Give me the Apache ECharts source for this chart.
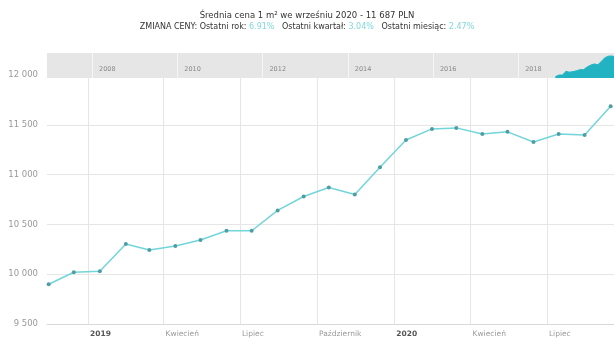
<!DOCTYPE html>
<html>
<head>
<meta charset="utf-8">
<script src="https://cdn.jsdelivr.net/npm/echarts@6/dist/echarts.min.js"></script>
<style>
  html, body { margin: 0; padding: 0; background: #fff; }
  #chart { width: 614px; height: 342px; }
</style>
</head>
<body>
<div id="chart"></div>
<script>
// monthly average price per m2 (mid-month points)
var months = ["2018-11-15", "2018-12-15", "2019-01-15", "2019-02-15", "2019-03-15", "2019-04-15",
  "2019-05-15", "2019-06-15", "2019-07-15", "2019-08-15", "2019-09-15", "2019-10-15",
  "2019-11-15", "2019-12-15", "2020-01-15", "2020-02-15", "2020-03-15", "2020-04-15",
  "2020-05-15", "2020-06-15", "2020-07-15", "2020-08-15", "2020-09-15"];
var prices = [9899, 10020, 10030, 10304, 10243, 10284, 10344, 10436, 10436, 10640, 10780, 10871,
  10800, 11074, 11348, 11459, 11469, 11408, 11429, 11327, 11408, 11398, 11687];

// main x axis ticks
var tickDates = ["2019-01-01", "2019-04-01", "2019-07-01", "2019-10-01", "2020-01-01", "2020-04-01", "2020-07-01"];
var tickLabels = ["2019", "Kwiecień", "Lipiec", "Październik", "2020", "Kwiecień", "Lipiec"];

// navigator ticks
var navDates = ["2008-01-01", "2010-01-01", "2012-01-01", "2014-01-01", "2016-01-01", "2018-01-01"];
var navLabels = ["2008", "2010", "2012", "2014", "2016", "2018"];

var change = { year: "6.91%", quarter: "3.04%", month: "2.47%" };

function toTime(s) {
  var p = s.split("-");
  return Date.UTC(+p[0], +p[1] - 1, +p[2]);
}
function nearest(list, v) {
  var best = 0;
  for (var i = 1; i < list.length; i++) {
    if (Math.abs(list[i] - v) < Math.abs(list[best] - v)) best = i;
  }
  return best;
}

var tickTimes = tickDates.map(toTime);
var navTimes = navDates.map(toTime);
var seriesData = months.map(function (m, i) { return [toTime(m), prices[i]]; });

var FONT = "DejaVu Sans";
var myChart = echarts.init(document.getElementById("chart"), null, { renderer: "canvas" });

var option = {
  animation: false,
  textStyle: { fontFamily: FONT },
  title: [
    {
      text: "Średnia cena 1 m² we wrześniu 2020 - 11 687 PLN",
      left: "center",
      top: 6,
      textStyle: { fontSize: 8.5, fontWeight: "normal", color: "#333", fontFamily: FONT }
    },
    {
      text: "{a|ZMIANA CENY: Ostatni rok: }{v|" + change.year + "}{a|   Ostatni kwartał: }{v|" +
        change.quarter + "}{a|   Ostatni miesiąc: }{v|" + change.month + "}",
      left: "center",
      top: 18,
      textStyle: {
        fontSize: 8,
        fontWeight: "normal",
        rich: {
          a: { fontSize: 8, fontWeight: "normal", color: "#333", fontFamily: FONT },
          v: { fontSize: 8, fontWeight: "normal", color: "#80d8dc", fontFamily: FONT }
        }
      }
    }
  ],
  grid: [
    { left: 47, right: 0, top: 75, bottom: 18 },
    { left: 47, right: 0, top: 53, height: 25, show: true, backgroundColor: "#e6e6e6", borderWidth: 0 }
  ],
  xAxis: [
    {
      type: "value",
      gridIndex: 0,
      min: toTime("2018-11-13"),
      max: toTime("2020-09-19"),
      axisLine: { lineStyle: { color: "#d8d8d8" } },
      axisTick: { show: false, customValues: tickTimes },
      splitLine: { show: true, lineStyle: { color: "#e6e6e6", width: 1 } },
      axisLabel: {
        customValues: tickTimes,
        align: "left",
        margin: 6,
        padding: [0, 0, 0, 2],
        fontSize: 7.5,
        color: "#999",
        formatter: function (v) {
          var i = nearest(tickTimes, v);
          var t = tickLabels[i];
          return /^\d{4}$/.test(t) ? "{y|" + t + "}" : t;
        },
        rich: { y: { fontSize: 7.5, fontWeight: "bold", color: "#555", fontFamily: FONT } }
      }
    },
    {
      type: "value",
      gridIndex: 1,
      min: toTime("2006-12-11"),
      max: toTime("2020-04-01"),
      axisLine: { show: false },
      axisTick: { show: false, customValues: navTimes },
      splitLine: { show: true, lineStyle: { color: "#f6f6f6", width: 1 } },
      axisLabel: {
        customValues: navTimes,
        inside: true,
        align: "left",
        margin: 5,
        padding: [0, 0, 0, 7],
        fontSize: 6.5,
        color: "#888",
        formatter: function (v) { return navLabels[nearest(navTimes, v)]; }
      }
    }
  ],
  yAxis: [
    {
      type: "value",
      gridIndex: 0,
      min: 9500,
      max: 12000,
      interval: 500,
      axisLine: { show: false },
      axisTick: { show: false },
      splitLine: { show: true, showMaxLine: false, lineStyle: { color: "#e6e6e6" } },
      axisLabel: {
        margin: 9,
        fontSize: 8.5,
        color: "#999",
        formatter: function (v) {
          return String(v).replace(/\B(?=(\d{3})+(?!\d))/g, " ");
        }
      }
    },
    {
      type: "value",
      gridIndex: 1,
      min: 9800,
      max: 11700,
      show: false
    }
  ],
  series: [
    {
      name: "cena",
      type: "line",
      xAxisIndex: 0,
      yAxisIndex: 0,
      data: seriesData,
      symbol: "circle",
      symbolSize: 4,
      lineStyle: { color: "#72d5da", width: 1.5 },
      itemStyle: { color: "#4f9ea3" },
      z: 3
    },
    {
      name: "nawigator",
      type: "line",
      xAxisIndex: 1,
      yAxisIndex: 1,
      data: seriesData,
      symbol: "none",
      lineStyle: { color: "#22b3c2", width: 1 },
      areaStyle: { color: "#22b3c2", opacity: 1 },
      z: 3
    }
  ]
};

myChart.setOption(option);
window.addEventListener("resize", myChart.resize);
</script>
</body>
</html>
